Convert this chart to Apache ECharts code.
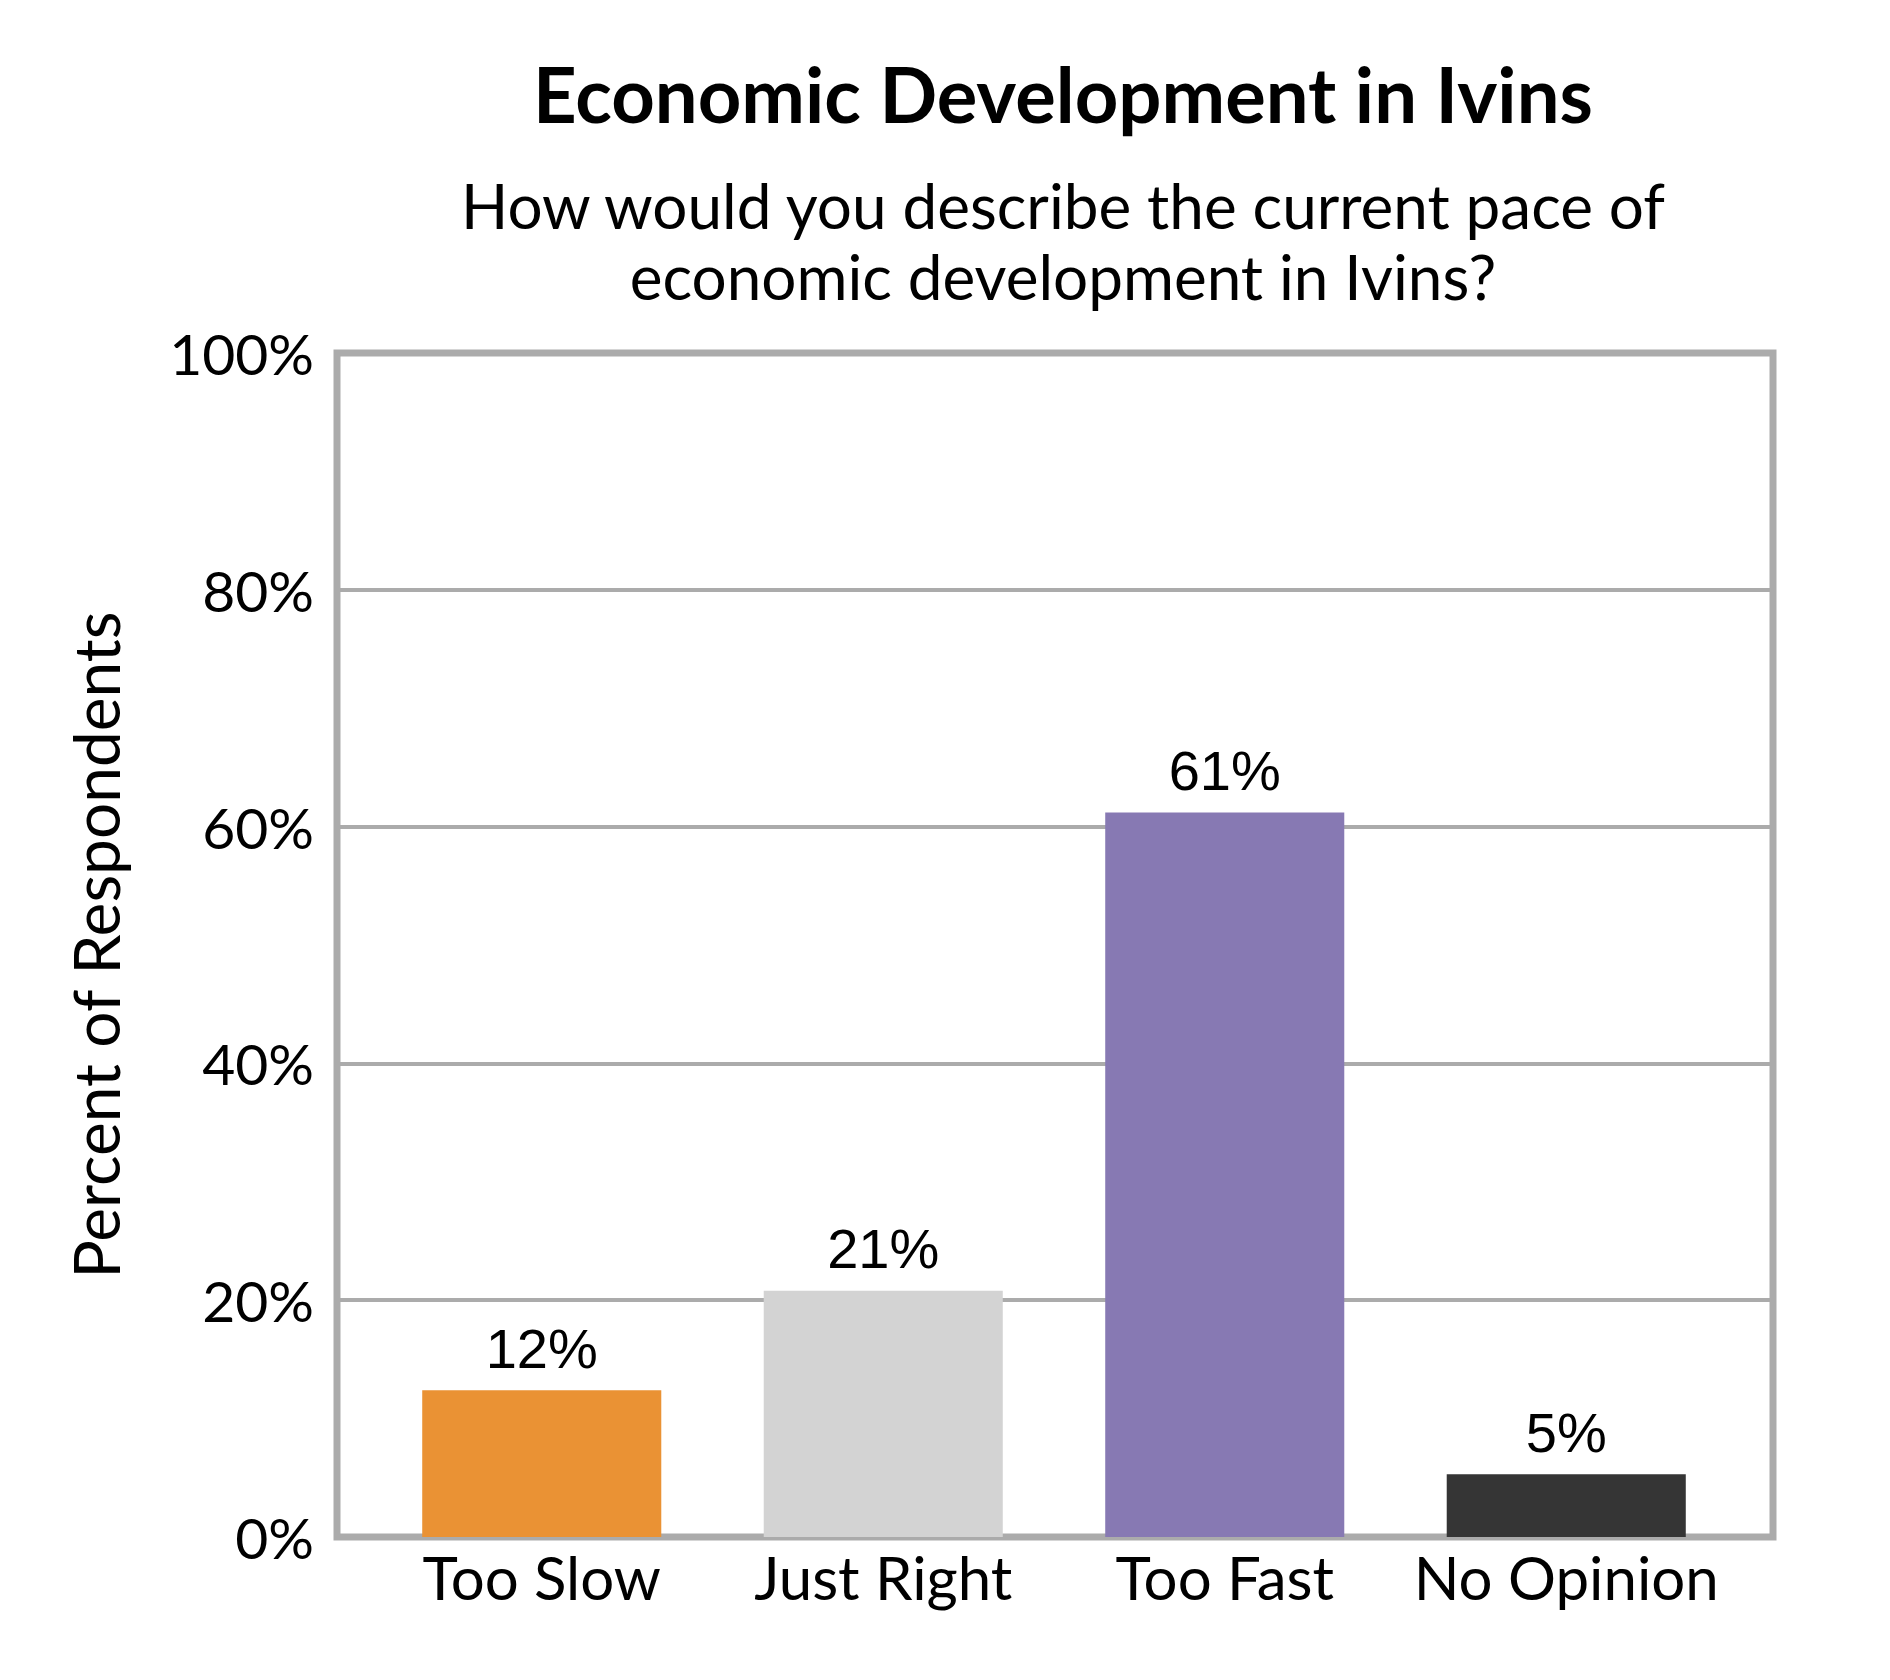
<!DOCTYPE html>
<html>
<head>
<meta charset="utf-8">
<style>
  html, body { margin: 0; padding: 0; background: #fff; }
  #chart { width: 1890px; height: 1680px; }
</style>
<script src="https://cdn.jsdelivr.net/npm/echarts@6/dist/echarts.min.js"></script>
</head>
<body>
<div id="chart"></div>
<script>
(function(){
  var categories = ['Too Slow', 'Just Right', 'Too Fast', 'No Opinion'];
  var values = [12.4, 20.8, 61.2, 5.3];
  var barColors = ['#EA9234', '#D3D3D3', '#8779B3', '#353535'];
  var yTicks = [0, 20, 40, 60, 80, 100];

  var frame = '#ABABAB';
  var sans = 'Lato, "Open Sans", sans-serif';
  var c = echarts.init(document.getElementById('chart'), null, {renderer:'svg'});
  c.setOption({
    animation:false,
    backgroundColor:'#fff',
    title:[
      {text:'Economic Development in Ivins', left:1058, textAlign:'center', top:50,
       textStyle:{fontFamily:sans, fontSize:76, fontWeight:'bold', color:'#000'}},
      {text:'How would you describe the current pace of\neconomic development in Ivins?', left:1058, textAlign:'center', top:164,
       textStyle:{fontFamily:sans, fontSize:62, fontWeight:'normal', color:'#000', lineHeight:71}}
    ],
    grid:[
      {left:371, right:153, top:353, bottom:143},
      {left:337, right:117, top:353, bottom:143, show:true, borderColor:frame, borderWidth:7, backgroundColor:'transparent'}
    ],
    xAxis:[
      {type:'category', gridIndex:0, data:categories,
       axisLine:{show:false}, axisTick:{show:false},
       axisLabel:{color:'#000', fontFamily:sans, fontSize:60, margin:10, interval:0}},
      {type:'category', gridIndex:1, data:categories, show:false}
    ],
    yAxis:[
      {type:'value', gridIndex:0, min:0, max:100, interval:20, show:false},
      {type:'value', gridIndex:1, min:0, max:100, interval:20,
       name:'Percent of Respondents', nameLocation:'middle', nameGap:210,
       nameTextStyle:{color:'#000', fontFamily:sans, fontSize:64},
       axisLine:{show:false}, axisTick:{show:false},
       axisLabel:{color:'#000', fontFamily:sans, fontSize:57, margin:23,
         customValues:yTicks, formatter:function(v){return v + '%';}},
       splitLine:{lineStyle:{color:frame, width:4}}}
    ],
    series:[{
      type:'bar', xAxisIndex:0, yAxisIndex:0, z:3,
      barCategoryGap:'30%',
      data:values.map(function(v, i){ return {value:v, itemStyle:{color:barColors[i]}}; }),
      label:{show:true, position:'top', distance:14, color:'#000',
        fontFamily:'"Liberation Sans", Arial, sans-serif', fontSize:56,
        formatter:function(p){ return Math.round(p.value) + '%'; }}
    }]
  });
})();
</script>
</body>
</html>
